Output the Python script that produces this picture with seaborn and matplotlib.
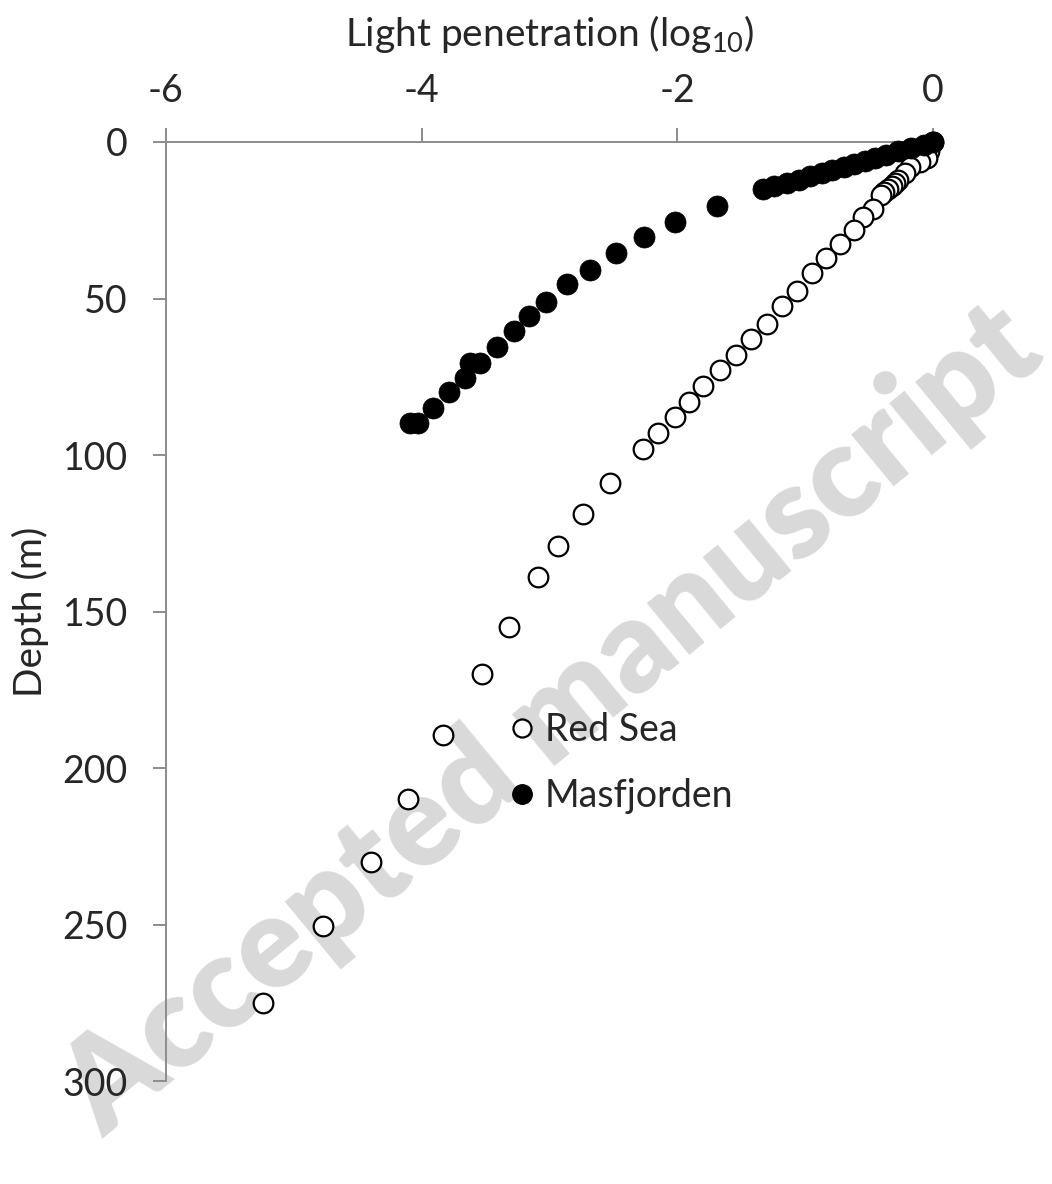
import matplotlib
matplotlib.use("Agg")
import matplotlib.pyplot as plt
import seaborn as sns
import pandas as pd
from matplotlib.lines import Line2D

# ---- data ----
red_sea_light = [0.0, -0.02, -0.03, -0.05, -0.10, -0.18, -0.22, -0.27, -0.30, -0.32,
                 -0.35, -0.38, -0.41, -0.47, -0.55, -0.62, -0.73, -0.84, -0.95, -1.06,
                 -1.18, -1.30, -1.42, -1.54, -1.67, -1.80, -1.91, -2.02, -2.15, -2.27,
                 -2.53, -2.74, -2.93, -3.09, -3.32, -3.53, -3.83, -4.11, -4.40, -4.77, -5.24]
red_sea_depth = [0, 1, 3, 5, 6.5, 8, 10, 12, 13, 14,
                 15, 16, 17, 21.5, 24, 28, 32.5, 37, 42, 47.5,
                 52.5, 58, 63, 68, 73, 78, 83, 88, 93, 98,
                 109, 119, 129, 139, 155, 170, 189.5, 210, 230, 250.5, 275]

masfjorden_light = [0.0, -0.07, -0.17, -0.27, -0.37, -0.45, -0.53, -0.62, -0.70, -0.79,
                    -0.87, -0.96, -1.05, -1.14, -1.24, -1.33, -1.69, -2.02, -2.26, -2.48,
                    -2.68, -2.86, -3.03, -3.16, -3.28, -3.41, -3.54, -3.62, -3.66, -3.79,
                    -3.91, -4.03, -4.09]
masfjorden_depth = [0, 1, 2, 3, 4, 5, 6, 7, 8, 9,
                    10, 11, 12, 13, 14, 15, 20.5, 25.5, 30.5, 35.5,
                    41, 45.5, 51, 55.5, 60.5, 65.5, 70.5, 70.5, 75.5, 80,
                    85, 89.8, 89.8]

x_ticks = [-6, -4, -2, 0]
y_ticks = [0, 50, 100, 150, 200, 250, 300]
series_names = ["Red Sea", "Masfjorden"]

red = pd.DataFrame({"light": red_sea_light, "depth": red_sea_depth})
mas = pd.DataFrame({"light": masfjorden_light, "depth": masfjorden_depth})

sns.set_style("white")
plt.rcParams["font.family"] = ["Lato", "DejaVu Sans"]
plt.rcParams["mathtext.fontset"] = "custom"
plt.rcParams["mathtext.rm"] = "Lato"

fig = plt.figure(figsize=(10.52, 11.84), dpi=100)
ax = fig.add_axes([166 / 1052, 1 - 1081 / 1184, (933 - 166) / 1052, (1081 - 142) / 1184])
ax.set_facecolor("none")

# watermark, behind the data
ax.text(0.525, 0.392, "Accepted manuscript", rotation=39.5, fontsize=92,
        fontweight="heavy", color="#d9d9d9", ha="center", va="center",
        transform=fig.transFigure, zorder=0, clip_on=False)

sns.scatterplot(data=red, x="light", y="depth", ax=ax, s=200, color="white",
                edgecolor="black", linewidth=1.6, clip_on=False, zorder=3)
sns.scatterplot(data=mas, x="light", y="depth", ax=ax, s=230, color="black",
                edgecolor="black", linewidth=0.5, clip_on=False, zorder=4)

ax.set_xlim(-6, 0)
ax.set_ylim(300, 0)
ax.set_xticks(x_ticks)
ax.set_yticks(y_ticks)
ax.set_xticklabels([str(t) for t in x_ticks])
ax.set_yticklabels([str(t) for t in y_ticks])

ax.xaxis.tick_top()
ax.xaxis.set_label_position("top")
for side in ["right", "bottom"]:
    ax.spines[side].set_visible(False)
for side in ["top", "left"]:
    ax.spines[side].set_color("#8c8c8c")
    ax.spines[side].set_linewidth(1.4)
ax.tick_params(axis="x", direction="out", length=10, width=1.4, color="#8c8c8c",
               labelsize=27, pad=14, top=True, bottom=False)
ax.tick_params(axis="y", direction="out", length=9.5, width=1.4, color="#8c8c8c",
               labelsize=27, pad=18, left=True)

ax.set_xlabel("Light penetration (log$_{10}$)", fontsize=28, labelpad=19)
ax.set_ylabel("Depth (m)", fontsize=28, labelpad=10)

handles = [
    Line2D([], [], marker="o", linestyle="none", markersize=13, markerfacecolor="white",
           markeredgecolor="black", markeredgewidth=1.6),
    Line2D([], [], marker="o", linestyle="none", markersize=14, markerfacecolor="black",
           markeredgecolor="black"),
]
leg = ax.legend(handles, series_names, frameon=False, fontsize=27,
                loc="center left", bbox_to_anchor=(511 / 1052, 1 - 763 / 1184),
                bbox_transform=fig.transFigure, handlelength=0.6,
                handletextpad=0.3, labelspacing=0.8, borderpad=0, borderaxespad=0)
leg.set_zorder(5)

fig.savefig("out.png", dpi=100)
